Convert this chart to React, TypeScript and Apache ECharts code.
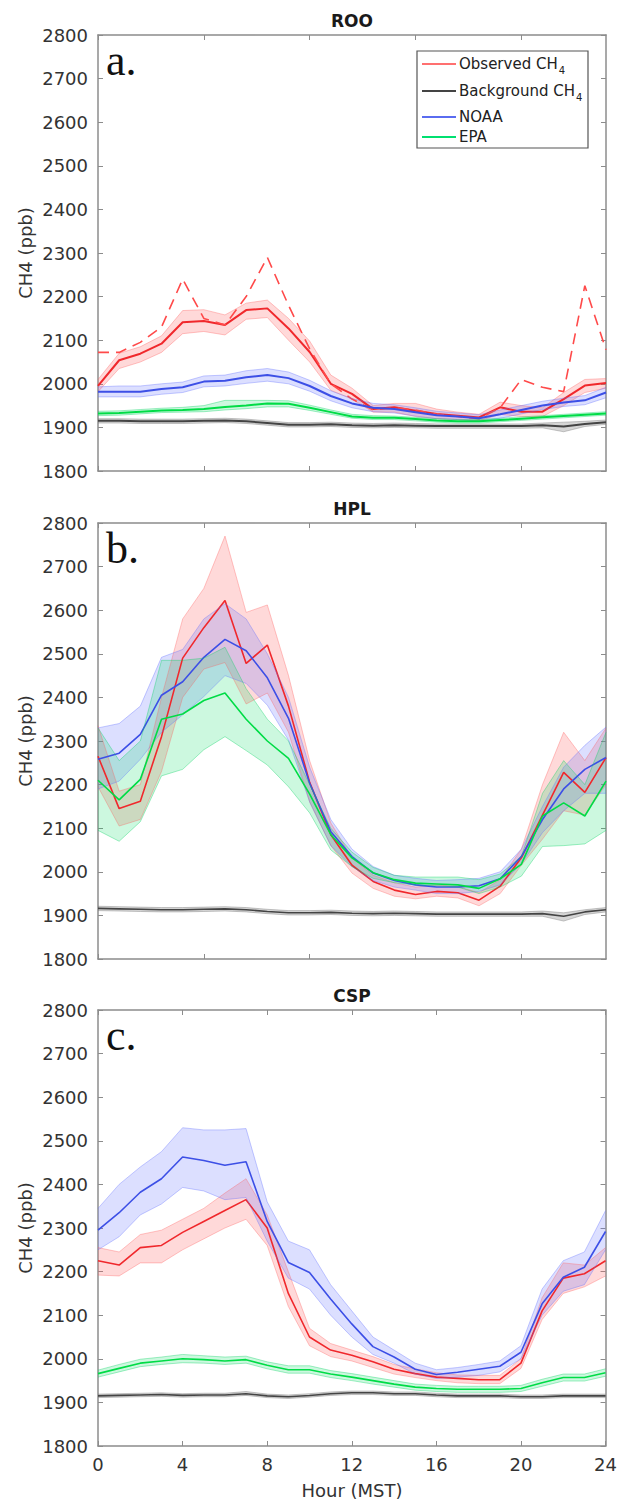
import React, { useEffect, useRef } from "react";
import * as echarts from "echarts";

const HOURS = [0, 1, 2, 3, 4, 5, 6, 7, 8, 9, 10, 11, 12, 13, 14, 15, 16, 17, 18, 19, 20, 21, 22, 23, 24];
const Y_TICKS = [1800, 2800, 100];

// ---------- Panel a: ROO ----------
const A_OBS = [1995, 2054, 2069, 2092, 2141, 2144, 2135, 2169, 2173, 2127, 2073, 2000, 1977, 1942, 1946, 1938, 1931, 1927, 1923, 1946, 1936, 1936, 1965, 1996, 2002];
const A_OBS_HI = [2010, 2070, 2085, 2110, 2168, 2170, 2158, 2185, 2192, 2150, 2098, 2020, 1990, 1950, 1955, 1955, 1942, 1935, 1930, 1958, 1950, 1945, 1980, 2010, 2012];
const A_OBS_LO = [1982, 2035, 2050, 2072, 2115, 2120, 2112, 2148, 2152, 2100, 2050, 1985, 1965, 1935, 1935, 1925, 1920, 1918, 1915, 1930, 1925, 1925, 1950, 1980, 1990];
const A_OBS_ALT = [2072, 2072, 2095, 2130, 2240, 2150, 2135, 2200, 2290, 2180, 2080, 2000, 1965, 1940, 1945, 1940, 1930, 1925, 1920, 1945, 2010, 1992, 1982, 2225, 2078];
const A_BG = [1915, 1915, 1914, 1914, 1914, 1915, 1916, 1914, 1910, 1906, 1906, 1907, 1905, 1904, 1905, 1904, 1903, 1903, 1903, 1903, 1903, 1905, 1902, 1908, 1912];
const A_BG_HI = [1920, 1920, 1919, 1919, 1919, 1920, 1921, 1919, 1915, 1911, 1911, 1912, 1910, 1909, 1910, 1909, 1908, 1908, 1908, 1908, 1908, 1910, 1912, 1914, 1917];
const A_BG_LO = [1910, 1910, 1909, 1909, 1909, 1910, 1911, 1909, 1905, 1901, 1901, 1902, 1900, 1899, 1900, 1899, 1898, 1898, 1898, 1898, 1898, 1899, 1890, 1902, 1907];
const A_NOAA = [1982, 1982, 1982, 1988, 1992, 2005, 2007, 2015, 2020, 2013, 1995, 1972, 1955, 1945, 1942, 1935, 1928, 1925, 1921, 1930, 1940, 1950, 1957, 1962, 1980];
const A_NOAA_HI = [1993, 1995, 1995, 2000, 2004, 2018, 2020, 2030, 2035, 2027, 2008, 1984, 1966, 1955, 1952, 1945, 1937, 1933, 1929, 1940, 1950, 1960, 1967, 1973, 1992];
const A_NOAA_LO = [1970, 1970, 1970, 1976, 1980, 1993, 1995, 2001, 2006, 2000, 1983, 1961, 1945, 1936, 1933, 1926, 1920, 1918, 1914, 1921, 1931, 1941, 1948, 1952, 1968];
const A_EPA = [1932, 1933, 1936, 1939, 1940, 1942, 1947, 1950, 1955, 1954, 1945, 1935, 1925, 1922, 1922, 1919, 1916, 1914, 1914, 1917, 1920, 1923, 1926, 1929, 1932];
const A_EPA_HI = [1937, 1938, 1941, 1944, 1946, 1950, 1962, 1962, 1962, 1961, 1951, 1940, 1930, 1927, 1926, 1923, 1920, 1918, 1918, 1921, 1924, 1927, 1930, 1933, 1936];
const A_EPA_LO = [1927, 1928, 1931, 1934, 1935, 1936, 1940, 1943, 1947, 1947, 1939, 1930, 1921, 1918, 1918, 1915, 1912, 1910, 1910, 1913, 1916, 1919, 1922, 1925, 1928];

// ---------- Panel b: HPL ----------
const B_OBS = [2265, 2145, 2162, 2310, 2490, 2560, 2622, 2478, 2520, 2380, 2205, 2085, 2015, 1978, 1958, 1948, 1955, 1952, 1935, 1967, 2032, 2130, 2228, 2182, 2262];
const B_OBS_HI = [2335, 2185, 2200, 2400, 2580, 2650, 2770, 2595, 2612, 2450, 2255, 2112, 2032, 1992, 1975, 1965, 1970, 1966, 1952, 1982, 2052, 2200, 2320, 2255, 2330];
const B_OBS_LO = [2195, 2105, 2120, 2230, 2400, 2465, 2480, 2385, 2410, 2320, 2160, 2060, 1997, 1962, 1944, 1938, 1944, 1940, 1922, 1950, 2015, 2075, 2140, 2130, 2200];
const B_BG = [1916, 1915, 1914, 1913, 1913, 1914, 1915, 1913, 1909, 1906, 1906, 1907, 1905, 1904, 1905, 1904, 1903, 1903, 1903, 1903, 1903, 1904, 1898, 1908, 1913];
const B_BG_HI = [1921, 1920, 1919, 1918, 1918, 1919, 1920, 1918, 1914, 1911, 1911, 1912, 1910, 1909, 1910, 1909, 1908, 1908, 1908, 1908, 1908, 1910, 1906, 1913, 1918];
const B_BG_LO = [1911, 1910, 1909, 1908, 1908, 1909, 1910, 1908, 1904, 1901, 1901, 1902, 1900, 1899, 1900, 1899, 1898, 1898, 1898, 1898, 1898, 1898, 1887, 1902, 1908];
const B_NOAA = [2258, 2272, 2315, 2405, 2436, 2492, 2533, 2507, 2445, 2352, 2203, 2092, 2035, 1997, 1980, 1970, 1965, 1965, 1968, 1984, 2035, 2120, 2190, 2235, 2262];
const B_NOAA_HI = [2330, 2340, 2380, 2492, 2510, 2580, 2615, 2580, 2500, 2400, 2240, 2120, 2052, 2012, 1992, 1985, 1980, 1982, 1985, 2000, 2052, 2150, 2240, 2290, 2332];
const B_NOAA_LO = [2190, 2208, 2258, 2320, 2360, 2402, 2450, 2432, 2382, 2302, 2160, 2060, 2012, 1980, 1965, 1958, 1950, 1950, 1955, 1970, 2018, 2090, 2140, 2180, 2180];
const B_EPA = [2210, 2165, 2212, 2350, 2362, 2393, 2410, 2350, 2300, 2260, 2178, 2085, 2032, 1998, 1982, 1974, 1972, 1970, 1962, 1984, 2017, 2128, 2158, 2128, 2208];
const B_EPA_HI = [2330, 2255, 2300, 2485, 2485, 2490, 2515, 2420, 2350, 2300, 2200, 2100, 2045, 2010, 1992, 1988, 1988, 1988, 1982, 1995, 2035, 2180, 2255, 2200, 2320];
const B_EPA_LO = [2095, 2070, 2115, 2220, 2235, 2280, 2310, 2278, 2245, 2195, 2135, 2050, 2012, 1985, 1975, 1970, 1968, 1965, 1950, 1965, 1990, 2058, 2060, 2064, 2095];

// ---------- Panel c: CSP ----------
const C_OBS = [2225, 2215, 2255, 2260, 2290, 2315, 2340, 2365, 2300, 2150, 2050, 2020, 2008, 1993, 1976, 1966, 1958, 1955, 1952, 1952, 1990, 2110, 2185, 2195, 2225];
const C_OBS_HI = [2255, 2245, 2285, 2295, 2320, 2345, 2380, 2413, 2330, 2200, 2070, 2035, 2020, 2005, 1987, 1977, 1968, 1963, 1962, 1962, 2000, 2140, 2220, 2215, 2255];
const C_OBS_LO = [2192, 2190, 2220, 2220, 2250, 2275, 2300, 2320, 2260, 2120, 2030, 2005, 1995, 1980, 1965, 1957, 1950, 1945, 1943, 1943, 1978, 2090, 2150, 2165, 2190];
const C_BG = [1915, 1916, 1917, 1918, 1916, 1917, 1917, 1920, 1915, 1913, 1916, 1920, 1922, 1922, 1920, 1920, 1917, 1915, 1915, 1915, 1913, 1913, 1915, 1915, 1915];
const C_BG_HI = [1919, 1920, 1921, 1922, 1920, 1921, 1921, 1925, 1919, 1917, 1920, 1924, 1926, 1926, 1924, 1924, 1921, 1919, 1919, 1919, 1917, 1917, 1919, 1919, 1919];
const C_BG_LO = [1911, 1912, 1913, 1914, 1912, 1913, 1913, 1916, 1911, 1909, 1912, 1916, 1918, 1918, 1916, 1916, 1913, 1911, 1911, 1911, 1909, 1909, 1911, 1911, 1911];
const C_NOAA = [2295, 2335, 2382, 2413, 2463, 2455, 2444, 2452, 2315, 2221, 2198, 2137, 2080, 2028, 2004, 1976, 1964, 1969, 1976, 1983, 2015, 2126, 2187, 2210, 2292];
const C_NOAA_HI = [2345, 2400, 2440, 2475, 2530, 2525, 2525, 2528, 2360, 2270, 2250, 2170, 2110, 2050, 2020, 1990, 1975, 1980, 1987, 1995, 2030, 2160, 2225, 2245, 2340];
const C_NOAA_LO = [2250, 2280, 2330, 2355, 2393, 2385, 2365, 2370, 2270, 2185, 2160, 2100, 2050, 2010, 1990, 1965, 1955, 1958, 1962, 1970, 2000, 2100, 2155, 2170, 2250];
const C_EPA = [1966, 1978, 1990, 1995, 2000, 1998, 1995, 1998, 1985, 1975, 1975, 1965, 1958, 1950, 1942, 1935, 1932, 1930, 1930, 1930, 1932, 1945, 1957, 1957, 1968];
const C_EPA_HI = [1974, 1987, 1999, 2004, 2010, 2007, 2004, 2006, 1993, 1984, 1984, 1973, 1966, 1958, 1950, 1942, 1939, 1937, 1937, 1937, 1939, 1953, 1965, 1965, 1977];
const C_EPA_LO = [1958, 1970, 1982, 1987, 1991, 1990, 1987, 1990, 1977, 1967, 1967, 1957, 1950, 1942, 1935, 1928, 1925, 1923, 1923, 1923, 1925, 1937, 1949, 1949, 1960];

const TITLES = ["ROO", "HPL", "CSP"];
const LETTERS = ["a.", "b.", "c."];
const X_TICK_STEP = [5, 5, 4];
const LEGEND_NAMES = ["Observed CH", "Background CH", "NOAA", "EPA"];

const PANELS = [
  { obs: [A_OBS, A_OBS_LO, A_OBS_HI], alt: A_OBS_ALT, bg: [A_BG, A_BG_LO, A_BG_HI], noaa: [A_NOAA, A_NOAA_LO, A_NOAA_HI], epa: [A_EPA, A_EPA_LO, A_EPA_HI] },
  { obs: [B_OBS, B_OBS_LO, B_OBS_HI], alt: null, bg: [B_BG, B_BG_LO, B_BG_HI], noaa: [B_NOAA, B_NOAA_LO, B_NOAA_HI], epa: [B_EPA, B_EPA_LO, B_EPA_HI] },
  { obs: [C_OBS, C_OBS_LO, C_OBS_HI], alt: null, bg: [C_BG, C_BG_LO, C_BG_HI], noaa: [C_NOAA, C_NOAA_LO, C_NOAA_HI], epa: [C_EPA, C_EPA_LO, C_EPA_HI] },
];

const FONT = "DejaVu Sans";
const AXIS_COLOR = "#8c8c8c";
const TEXT_COLOR = "#333333";
const GRID_LEFT = 98;
const GRID_W = 508;
const GRID_H = 436;
const GRID_TOPS = [35, 523, 1010];

const COLORS = {
  obs: { line: "#f0282c", fill: "rgba(255,95,95,0.24)", edge: "rgba(255,95,95,0.45)", legend: "#ff7070" },
  bg: { line: "#444444", fill: "rgba(120,120,120,0.3)", edge: "rgba(120,120,120,0.5)", legend: "#444444" },
  noaa: { line: "#3c4fe6", fill: "rgba(95,110,255,0.22)", edge: "rgba(95,110,255,0.45)", legend: "#5a6cf0" },
  epa: { line: "#00dc46", fill: "rgba(0,220,95,0.2)", edge: "rgba(0,210,95,0.45)", legend: "#00e070" },
};

function buildOption() {
  const grid: any[] = [];
  const xAxis: any[] = [];
  const yAxis: any[] = [];
  const series: any[] = [];
  const graphic: any[] = [];
  const axisLine = { show: true, lineStyle: { color: AXIS_COLOR, width: 1.5 } };
  const cats = HOURS.map(String);

  PANELS.forEach((p, gi) => {
    const top = GRID_TOPS[gi];
    const step = X_TICK_STEP[gi] - 1;
    grid.push({ left: GRID_LEFT, top, width: GRID_W, height: GRID_H, containLabel: false });
    const xBase = {
      gridIndex: gi, type: "category", data: cats, boundaryGap: false,
      axisLine,
      axisTick: { show: true, inside: true, length: 5, interval: step, lineStyle: { color: AXIS_COLOR, width: 1 } },
      splitLine: { show: false },
    };
    xAxis.push({
      ...xBase, position: "bottom",
      axisLabel: { show: gi === 2, interval: step, fontFamily: FONT, fontSize: 18, color: TEXT_COLOR, margin: 9 },
    });
    xAxis.push({ ...xBase, position: "top", axisLabel: { show: false } });
    const yBase = {
      gridIndex: gi, type: "value", min: Y_TICKS[0], max: Y_TICKS[1], interval: Y_TICKS[2],
      axisLine,
      axisTick: { show: true, inside: true, length: 5, lineStyle: { color: AXIS_COLOR, width: 1 } },
      splitLine: { show: false },
    };
    yAxis.push({
      ...yBase, position: "left",
      axisLabel: { show: true, fontFamily: FONT, fontSize: 18, color: TEXT_COLOR, margin: 10, formatter: (v: number) => String(v) },
    });
    yAxis.push({ ...yBase, position: "right", axisLabel: { show: false } });

    const xi = gi * 2;
    const yi = gi * 2;
    const lw = gi === 0 ? 2 : 1.6;

    const addGroup = (key: string, trip: number[][], col: any) => {
      const [mean, lo, hi] = trip;
      const stack = `band_${gi}_${key}`;
      series.push({
        type: "line", xAxisIndex: xi, yAxisIndex: yi, data: lo, stack, symbol: "none", silent: true,
        lineStyle: { color: col.edge, width: 0.8 },
      });
      series.push({
        type: "line", xAxisIndex: xi, yAxisIndex: yi, data: hi.map((v, i) => v - lo[i]), stack, symbol: "none", silent: true,
        lineStyle: { color: col.edge, width: 0.8 }, areaStyle: { color: col.fill, opacity: 1 },
      });
      series.push({
        type: "line", xAxisIndex: xi, yAxisIndex: yi, data: mean, symbol: "none", silent: true,
        lineStyle: { color: col.line, width: lw },
      });
    };

    addGroup("obs", p.obs, COLORS.obs);
    if (p.alt) {
      series.push({
        type: "line", xAxisIndex: xi, yAxisIndex: yi, data: p.alt, symbol: "none", silent: true,
        lineStyle: { color: "#ff4a4a", width: 1.6, type: [11, 7] },
      });
    }
    addGroup("bg", p.bg, COLORS.bg);
    addGroup("noaa", p.noaa, COLORS.noaa);
    addGroup("epa", p.epa, COLORS.epa);

    graphic.push({
      type: "text", x: GRID_LEFT + GRID_W / 2, y: top - 14,
      style: { text: TITLES[gi], font: `bold 17px "${FONT}"`, fill: "#1a1a1a", textAlign: "center", textVerticalAlign: "middle" },
    });
    graphic.push({
      type: "text", x: 106, y: top + 47,
      style: { text: LETTERS[gi], font: `44px "Liberation Serif"`, fill: "#111111", textAlign: "left", textVerticalAlign: "bottom" },
    });
    graphic.push({
      type: "text", x: 25, y: top + GRID_H / 2, rotation: Math.PI / 2,
      style: { text: "CH4 (ppb)", font: `18px "${FONT}"`, fill: TEXT_COLOR, textAlign: "center", textVerticalAlign: "middle" },
    });
  });

  graphic.push({
    type: "text", x: GRID_LEFT + GRID_W / 2, y: 1490,
    style: { text: "Hour (MST)", font: `18px "${FONT}"`, fill: TEXT_COLOR, textAlign: "center", textVerticalAlign: "middle" },
  });

  const lgLeft = 417, lgTop = 51, lgRight = 588, lgBottom = 148;
  graphic.push({
    type: "rect", shape: { x: lgLeft, y: lgTop, width: lgRight - lgLeft, height: lgBottom - lgTop },
    style: { fill: "#ffffff", stroke: "#555555", lineWidth: 1.2 }, z: 50,
  });
  const rowsY = [64, 91, 117, 137];
  const legendCols = [COLORS.obs.legend, COLORS.bg.legend, COLORS.noaa.legend, COLORS.epa.legend];
  LEGEND_NAMES.forEach((name, i) => {
    graphic.push({
      type: "line", shape: { x1: 422, y1: rowsY[i], x2: 456, y2: rowsY[i] },
      style: { stroke: legendCols[i], lineWidth: 2 }, z: 51,
    });
    const hasSub = i < 2;
    graphic.push({
      type: "text", x: 459, y: rowsY[i], z: 51,
      style: {
        text: hasSub ? `{n|${name}}{s|4}` : `{n|${name}}`,
        textAlign: "left", textVerticalAlign: "middle",
        rich: {
          n: { fontFamily: FONT, fontSize: 15, fill: "#222222", lineHeight: 18 },
          s: { fontFamily: FONT, fontSize: 10, fill: "#222222", lineHeight: 18, padding: [12, 0, 0, 1] },
        },
      },
    });
  });

  return { animation: false, backgroundColor: "#ffffff", grid, xAxis, yAxis, series, graphic };
}

export default function App() {
  const ref = useRef<HTMLDivElement>(null);
  useEffect(() => {
    if (!ref.current) return;
    const chart = echarts.init(ref.current, null, { renderer: "svg" });
    chart.setOption(buildOption() as any);
    return () => chart.dispose();
  }, []);
  return (
    <div
      ref={ref}
      style={{ position: "absolute", left: 0, top: 0, width: 620, height: 1502, background: "#fff" }}
    />
  );
}
